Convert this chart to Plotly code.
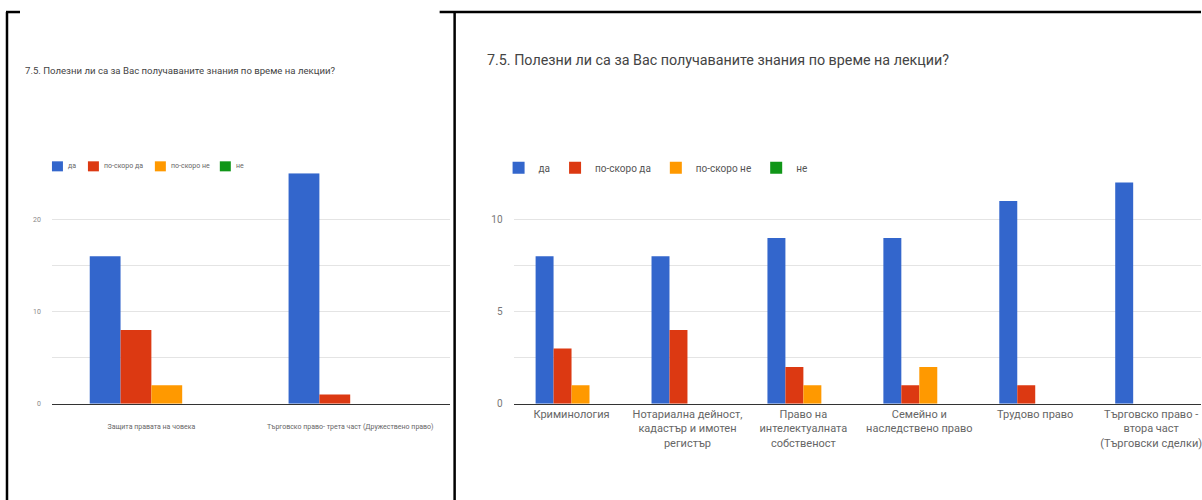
import plotly.graph_objects as go

W, H = 1202, 500
FIG_H = 506  # page is photographed slightly squeezed vertically

series_names = ["да", "по-скоро да", "по-скоро не", "не"]
series_colors = ["#3366cc", "#dc3912", "#ff9900", "#109618"]

left_categories = ["Защита правата на човека",
                   "Търговско право- трета част (Дружествено право)"]
left_values = [
    [16, 25],   # да
    [8, 1],     # по-скоро да
    [2, 0],     # по-скоро не
    [0, 0],     # не
]

right_categories = ["Криминология",
                    "Нотариална дейност,<br>кадастър и имотен<br>регистър",
                    "Право на<br>интелектуалната<br>собственост",
                    "Семейно и<br>наследствено право",
                    "Трудово право",
                    "Търговско право -<br>втора част<br>(Търговски сделки)"]
right_values = [
    [8, 8, 9, 9, 11, 12],   # да
    [3, 4, 2, 1, 1, 0],     # по-скоро да
    [1, 0, 1, 2, 0, 0],     # по-скоро не
    [0, 0, 0, 0, 0, 0],     # не
]

title_text = "7.5. Полезни ли са за Вас получаваните знания по време на лекции?"

def px_x(p):
    return p / W

def px_y(p):
    return 1 - p / H

fig = go.Figure()

for name, color, vals in zip(series_names, series_colors, left_values):
    fig.add_trace(go.Bar(x=left_categories, y=vals, name=name, marker_color=color,
                         marker_line_width=0, xaxis="x", yaxis="y", showlegend=False,
                         offsetgroup=name))

for name, color, vals in zip(series_names, series_colors, right_values):
    fig.add_trace(go.Bar(x=right_categories, y=vals, name=name, marker_color=color,
                         marker_line_width=0, xaxis="x2", yaxis="y2",
                         offsetgroup=name))

font_family = "Roboto, Arial, sans-serif"
grid_c = "#e4e4e4"

fig.update_layout(
    width=W, height=FIG_H,
    margin=dict(l=0, r=0, t=0, b=0),
    paper_bgcolor="white", plot_bgcolor="white",
    barmode="group", bargap=0.38, bargroupgap=0,
    font=dict(family=font_family, color="#555"),
    xaxis=dict(domain=[px_x(52), px_x(450)], anchor="y",
               showline=True, linecolor="#333", linewidth=1, ticks="",
               ticklabelstandoff=16,
               tickfont=dict(size=7, color="#666"), showgrid=False, fixedrange=True),
    yaxis=dict(domain=[px_y(403), px_y(173)], anchor="x", range=[0, 25],
               dtick=10, tickfont=dict(size=7, color="#888"), gridcolor=grid_c,
               showline=False, zeroline=False, ticks="", ticklabelstandoff=10,
               minor=dict(dtick=5, showgrid=True, gridcolor=grid_c)),
    xaxis2=dict(domain=[px_x(514), 1.0], anchor="y2", range=[-0.5, 5.43],
                showline=True, linecolor="#333", linewidth=1, ticks="",
                ticklabelstandoff=0,
                tickfont=dict(size=11, color="#666"), showgrid=False),
    yaxis2=dict(domain=[px_y(403), px_y(173)], anchor="x2", range=[0, 12.5],
                dtick=5, tickfont=dict(size=10, color="#777"), gridcolor=grid_c,
                showline=False, zeroline=False, ticks="", ticklabelstandoff=10,
                minor=dict(dtick=2.5, showgrid=True, gridcolor=grid_c)),
    legend=dict(orientation="h", x=px_x(499), y=px_y(153), xanchor="left", yanchor="top",
                font=dict(size=10, color="#555"), bgcolor="rgba(0,0,0,0)",
                itemclick=False, itemdoubleclick=False),
    showlegend=True,
)

# compact legend for the left panel (built from the series lists)
leg_x = [52, 88, 155, 220]
for name, color, lx in zip(series_names, series_colors, leg_x):
    fig.add_shape(type="rect", xref="paper", yref="paper",
                  x0=px_x(lx), x1=px_x(lx + 11), y0=px_y(171), y1=px_y(161),
                  fillcolor=color, line_width=0)
    fig.add_annotation(text=name, xref="paper", yref="paper", x=px_x(lx + 14), y=px_y(166),
                       xanchor="left", yanchor="middle", showarrow=False,
                       font=dict(size=7, color="#666", family=font_family))

fig.add_annotation(text=title_text, xref="paper", yref="paper", x=px_x(23), y=px_y(70),
                   xanchor="left", yanchor="middle", showarrow=False,
                   font=dict(size=9.6, color="#444", family=font_family))
fig.add_annotation(text=title_text, xref="paper", yref="paper", x=px_x(485), y=px_y(60),
                   xanchor="left", yanchor="middle", showarrow=False,
                   font=dict(size=14.3, color="#444", family=font_family))

# panel borders
border = dict(color="black", width=2.5)
fig.add_shape(type="line", xref="paper", yref="paper", x0=px_x(7), x1=px_x(7), y0=px_y(12), y1=0, line=border)
fig.add_shape(type="line", xref="paper", yref="paper", x0=px_x(455), x1=px_x(455), y0=px_y(12), y1=0, line=border)
fig.add_shape(type="line", xref="paper", yref="paper", x0=px_x(6), x1=px_x(20), y0=px_y(12), y1=px_y(12), line=border)
fig.add_shape(type="line", xref="paper", yref="paper", x0=px_x(440), x1=1.0, y0=px_y(12), y1=px_y(12), line=border)

fig.write_html("out.html", config={"displayModeBar": False},
               post_script="document.body.style.margin='0';document.body.style.overflow='hidden';")
